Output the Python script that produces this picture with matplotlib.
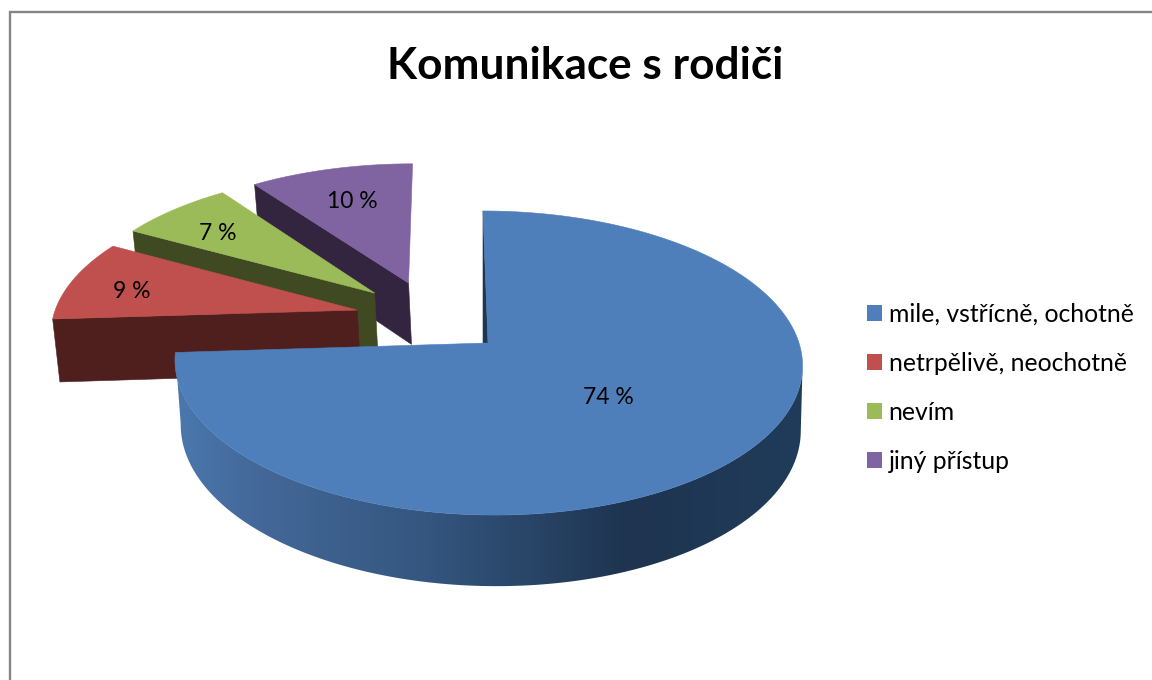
import numpy as np
import matplotlib
matplotlib.use("Agg")
from matplotlib import pyplot as plt
from matplotlib.colors import LinearSegmentedColormap
from matplotlib.patches import Patch, Polygon

plt.rcParams['font.family'] = ['Lato', 'DejaVu Sans']

title = "Komunikace s rodiči"
categories = ["mile, vstřícně, ochotně", "netrpělivě, neochotně", "nevím", "jiný přístup"]
values = [74, 9, 7, 10]
labels = ["74 %", "9 %", "7 %", "10 %"]

top_colors = ["#4f7fba", "#bf504d", "#9bbb59", "#8064a2"]
side_colors = ["#1e3650", "#4f1f1e", "#3f4a23", "#332540"]
# pie offsets, in pie radii: sideways and away from the viewer
explode_x = [0.0, -0.429, -0.375, -0.262]
explode_y = [0.0, 0.227, 0.35, 0.424]
label_xy = [(608, 397), (132, 291), (218, 233), (352, 201)]

# fake 3d view, fitted to the picture
cx, cy = 488, 343
rad_x, rad_y = 311, 149.4
persp = 0.1316
shear = 0.038
depth = 64
depth_persp = 0.1
shrink = 0.988
bottom_shift = 2


def project(s, t, bottom=False):
    # s to the right, t away from the viewer
    w = 1 + persp * t
    x = rad_x * s / w
    y = -rad_y * t / w
    x = x + shear * y
    if bottom:
        x = x * shrink + bottom_shift
        y = y + depth / (1 + depth_persp * t)
    return cx + x, cy + y


def wedge(a0, a1, dx, dy, bottom=False, n=400):
    # angles clockwise from 12 o'clock
    a = np.radians(np.linspace(a0, a1, n))
    return project(dx + np.sin(a), dy + np.cos(a), bottom)


def poly(xs, ys, color, z):
    ax.add_patch(Polygon(np.column_stack([xs, ys]), closed=True, fc=color, ec=color, lw=0.4, zorder=z))


fig = plt.figure(figsize=(11.52, 6.8), dpi=100)
ax = fig.add_axes([0, 0, 1, 1])
ax.set_xlim(0, 1152)
ax.set_ylim(680, 0)
ax.axis("off")

# chart border, runs off the picture right and bottom
ax.plot([10, 10, 1152], [680, 12, 12], color="#868686", lw=1.7, solid_joinstyle="miter", zorder=1)

edges = np.concatenate([[0], np.cumsum(values)]) * 360 / sum(values)

# exploded slices back to front, big slice last
for i in [3, 2, 1, 0]:
    a0, a1 = edges[i], edges[i + 1]
    dx, dy = explode_x[i], explode_y[i]
    z = 10 + (3 - i) * 2
    ax_, ay_ = project(dx, dy)
    ox, oy = wedge(a0, a1, dx, dy)
    if i > 0:
        # cut face on the left side of the slice
        bx, by = project(dx, dy, True)
        ex, ey = project(dx + np.sin(np.radians(a0)), dy + np.cos(np.radians(a0)), True)
        poly([ax_, ox[0], ex, bx], [ay_, oy[0], ey, by], side_colors[i], z)
    else:
        # thin dark sliver at 12 o'clock
        poly([ax_, ox[0], ax_ - 5], [ay_, oy[0], ay_], side_colors[0], z)
        # rim with the horizontal gradient, outline runs between the extreme points
        bx, by = wedge(a0, a1, dx, dy, True)
        right_top = np.argmax(ox)
        right_bot = np.argmax(bx)
        left_bot = np.argmin(bx)
        rim_x = np.r_[ox[right_top:], bx[right_bot:left_bot + 1][::-1]]
        rim_y = np.r_[oy[right_top:], by[right_bot:left_bot + 1][::-1]]
        rim = Polygon(np.column_stack([rim_x, rim_y]), closed=True, fc="none", ec="none")
        ax.add_patch(rim)
        cmap = LinearSegmentedColormap.from_list("rim", [(0, "#4a78ae"), (0.12, "#44699a"), (0.4, "#34567f"),
                                                         (0.72, "#1e3450"), (1, "#203c5a")])
        im = ax.imshow(np.linspace(0, 1, 256)[None, :], extent=(175, 805, 600, 200), cmap=cmap,
                       aspect="auto", zorder=z, interpolation="bilinear")
        im.set_clip_path(rim)
    poly(np.r_[ax_, ox], np.r_[ay_, oy], top_colors[i], z + 1)

ax.set_xlim(0, 1152)
ax.set_ylim(680, 0)

for lab, (lx, ly) in zip(labels, label_xy):
    ax.text(lx, ly, lab, fontsize=16.5, ha="center", va="center", color="black", zorder=30)

ax.text(585, 66, title, fontsize=31.8, fontweight="bold", ha="center", va="center", color="black", zorder=30)

handles = [Patch(fc=c, ec="none") for c in top_colors]
ax.legend(handles, categories, loc="center left", bbox_to_anchor=(867, 388), bbox_transform=ax.transData,
          frameon=False, fontsize=17.8, handlelength=0.61, handleheight=0.61, handletextpad=0.26,
          labelspacing=1.05, borderpad=0, borderaxespad=0, labelcolor="black")

fig.savefig("out.png", dpi=100)
